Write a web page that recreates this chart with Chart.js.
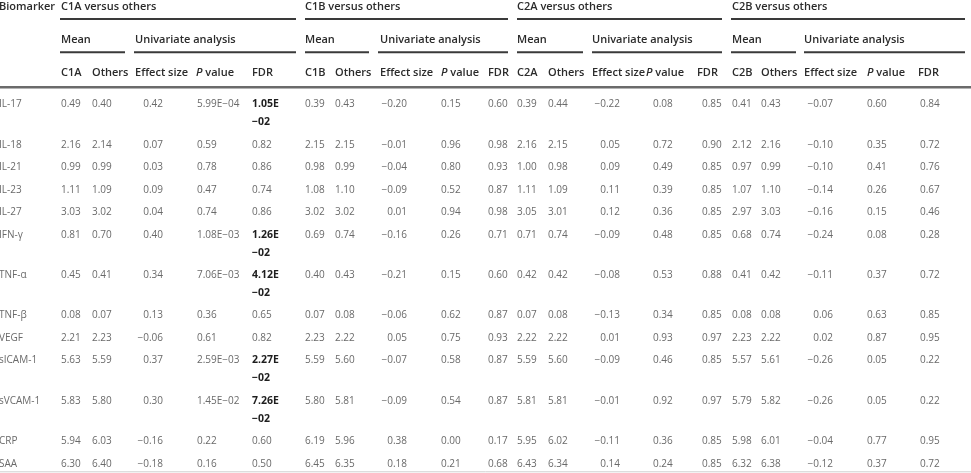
<!DOCTYPE html>
<html><head><meta charset="utf-8">
<script src="https://cdn.jsdelivr.net/npm/chart.js@4.4.1/dist/chart.umd.min.js"></script>
<style>html,body{margin:0;padding:0;background:#fff;overflow:hidden}#wrap{width:971px;height:473px;position:relative}</style>
</head><body><div id="wrap"><canvas id="c" width="971" height="473"></canvas></div>
<script>
// ---------- data ----------
const biomarkers = ['IL-17','IL-18','IL-21','IL-23','IL-27','IFN-γ','TNF-α','TNF-β','VEGF','sICAM-1','sVCAM-1','CRP','SAA'];
const comparisons = ['C1A','C1B','C2A','C2B'];
const subHeaders = ['Others','Effect size','P value','FDR'];

const c1aMean   = [0.49,2.16,0.99,1.11,3.03,0.81,0.45,0.08,2.21,5.63,5.83,5.94,6.30];
const c1aOthers = [0.40,2.14,0.99,1.09,3.02,0.70,0.41,0.07,2.23,5.59,5.80,6.03,6.40];
const c1aEffect = [0.42,0.07,0.03,0.09,0.04,0.40,0.34,0.13,-0.06,0.37,0.30,-0.16,-0.18];
const c1aP      = ['5.99E−04','0.59','0.78','0.47','0.74','1.08E−03','7.06E−03','0.36','0.61','2.59E−03','1.45E−02','0.22','0.16'];
const c1aFDR    = ['1.05E−02','0.82','0.86','0.74','0.86','1.26E−02','4.12E−02','0.65','0.82','2.27E−02','7.26E−02','0.60','0.50'];

const c1bMean   = [0.39,2.15,0.98,1.08,3.02,0.69,0.40,0.07,2.23,5.59,5.80,6.19,6.45];
const c1bOthers = [0.43,2.15,0.99,1.10,3.02,0.74,0.43,0.08,2.22,5.60,5.81,5.96,6.35];
const c1bEffect = [-0.20,-0.01,-0.04,-0.09,0.01,-0.16,-0.21,-0.06,0.05,-0.07,-0.09,0.38,0.18];
const c1bP      = ['0.15','0.96','0.80','0.52','0.94','0.26','0.15','0.62','0.75','0.58','0.54','0.00','0.21'];
const c1bFDR    = ['0.60','0.98','0.93','0.87','0.98','0.71','0.60','0.87','0.93','0.87','0.87','0.17','0.68'];

const c2aMean   = [0.39,2.16,1.00,1.11,3.05,0.71,0.42,0.07,2.22,5.59,5.81,5.95,6.43];
const c2aOthers = [0.44,2.15,0.98,1.09,3.01,0.74,0.42,0.08,2.22,5.60,5.81,6.02,6.34];
const c2aEffect = [-0.22,0.05,0.09,0.11,0.12,-0.09,-0.08,-0.13,0.01,-0.09,-0.01,-0.11,0.14];
const c2aP      = ['0.08','0.72','0.49','0.39','0.36','0.48','0.53','0.34','0.93','0.46','0.92','0.36','0.24'];
const c2aFDR    = ['0.85','0.90','0.85','0.85','0.85','0.85','0.88','0.85','0.97','0.85','0.97','0.85','0.85'];

const c2bMean   = [0.41,2.12,0.97,1.07,2.97,0.68,0.41,0.08,2.23,5.57,5.79,5.98,6.32];
const c2bOthers = [0.43,2.16,0.99,1.10,3.03,0.74,0.42,0.08,2.22,5.61,5.82,6.01,6.38];
const c2bEffect = [-0.07,-0.10,-0.10,-0.14,-0.16,-0.24,-0.11,0.06,0.02,-0.26,-0.26,-0.04,-0.12];
const c2bP      = ['0.60','0.35','0.41','0.26','0.15','0.08','0.37','0.63','0.87','0.05','0.05','0.77','0.37'];
const c2bFDR    = ['0.84','0.72','0.76','0.67','0.46','0.28','0.72','0.85','0.95','0.22','0.22','0.95','0.72'];

// ---------- layout (positions in scale units = px) ----------
const groupCols = [
  {title:61,  mean:61,  others:92,  effHead:135, effRight:163, pHead:196, pVal:197, fdrHead:252, fdrVal:252, line:[60,296],  meanLine:[60,125],  uniLine:[134,296]},
  {title:305, mean:305, others:335, effHead:380, effRight:407, pHead:441, pVal:441, fdrHead:488, fdrVal:488, line:[305,508], meanLine:[305,369], uniLine:[378,508]},
  {title:517, mean:517, others:548, effHead:592, effRight:620, pHead:646, pVal:653, fdrHead:697, fdrVal:702, line:[517,722], meanLine:[517,583], uniLine:[592,722]},
  {title:732, mean:732, others:761, effHead:804, effRight:833, pHead:867, pVal:867, fdrHead:918, fdrVal:920, line:[731,965], meanLine:[731,796], uniLine:[804,965]}
];
const groups = [
  {mean:c1aMean, others:c1aOthers, effect:c1aEffect, p:c1aP, fdr:c1aFDR},
  {mean:c1bMean, others:c1bOthers, effect:c1bEffect, p:c1bP, fdr:c1bFDR},
  {mean:c2aMean, others:c2aOthers, effect:c2aEffect, p:c2aP, fdr:c2aFDR},
  {mean:c2bMean, others:c2bOthers, effect:c2bEffect, p:c2bP, fdr:c2bFDR}
];

const HEAD_FONT = '600 11px "Open Sans", "Noto Sans", sans-serif';
const BOLD_FONT = '700 10.5px "Open Sans", "Noto Sans", sans-serif';
const VAL_FONT  = '400 10px "Liberation Sans Narrow", "Open Sans", sans-serif';
const HEAD_COL = '#2b2b2b', VAL_COL = '#6a6a6a';

const fmt = v => (v < 0 ? '−' : '') + Math.abs(v).toFixed(2);

const tablePlugin = {
  id: 'tablePlugin',
  afterDraw(chart) {
    const ctx = chart.ctx, X = chart.scales.x, Y = chart.scales.y;
    const px = v => X.getPixelForValue(v), py = v => Y.getPixelForValue(v);
    ctx.save();
    ctx.textBaseline = 'alphabetic';
    const text = (s, x, y, font, col, align) => {
      ctx.font = font; ctx.fillStyle = col; ctx.textAlign = align || 'left';
      ctx.fillText(s, px(x), py(y));
    };
    const hline = (x0, x1, y, w, col) => {
      ctx.strokeStyle = col; ctx.lineWidth = w;
      ctx.beginPath(); ctx.moveTo(px(x0), py(y)); ctx.lineTo(px(x1), py(y)); ctx.stroke();
    };
    // header
    text('Biomarker', -1, 9.5, HEAD_FONT, HEAD_COL);
    groupCols.forEach((g, i) => {
      text(comparisons[i] + ' versus others', g.title, 9.5, HEAD_FONT, HEAD_COL);
      hline(g.line[0], g.line[1], 19, 2, '#3a3a3a');
      text('Mean', g.mean, 42.5, HEAD_FONT, HEAD_COL);
      text('Univariate analysis', g.effHead, 42.5, HEAD_FONT, HEAD_COL);
      hline(g.meanLine[0], g.meanLine[1], 52.3, 2, '#3a3a3a');
      hline(g.uniLine[0], g.uniLine[1], 52.3, 2, '#3a3a3a');
      text(comparisons[i], g.mean, 76, HEAD_FONT, HEAD_COL);
      text(subHeaders[0], g.others, 76, HEAD_FONT, HEAD_COL);
      text(subHeaders[1], g.effHead, 76, HEAD_FONT, HEAD_COL);
      // italic P
      ctx.font = 'italic 600 11px "Open Sans", "Noto Sans", sans-serif';
      ctx.fillStyle = HEAD_COL; ctx.textAlign = 'left';
      ctx.fillText('P', px(g.pHead), py(76));
      const pw = ctx.measureText('P ').width;
      ctx.font = HEAD_FONT;
      ctx.fillText('value', px(g.pHead) + pw, py(76));
      text(subHeaders[3], g.fdrHead, 76, HEAD_FONT, HEAD_COL);
    });
    hline(0, 971, 87.3, 2.5, '#6b6b6b');
    // body
    const STEP = 22.45, EXTRA = 18, FIRST = 107.3;
    let extra = 0;
    biomarkers.forEach((b, r) => {
      const y = FIRST + STEP * r + extra;
      let lines = 1;
      text(b, -1, y, VAL_FONT, VAL_COL);
      groups.forEach((d, gi) => {
        const g = groupCols[gi];
        text(d.mean[r].toFixed(2), g.mean, y, VAL_FONT, VAL_COL);
        text(d.others[r].toFixed(2), g.others, y, VAL_FONT, VAL_COL);
        text(fmt(d.effect[r]), g.effRight, y, VAL_FONT, VAL_COL, 'right');
        text(d.p[r], g.pVal, y, VAL_FONT, VAL_COL);
        const f = d.fdr[r];
        if (f.includes('E')) {
          const parts = f.split('E');
          text(parts[0] + 'E', g.fdrVal, y, BOLD_FONT, '#1e1e1e');
          text(parts[1], g.fdrVal, y + EXTRA, BOLD_FONT, '#1e1e1e');
          lines = 2;
        } else {
          text(f, g.fdrVal, y, VAL_FONT, VAL_COL);
        }
      });
      if (lines === 2) extra += EXTRA;
    });
    hline(0, 971, 471.8, 1, '#d0d0d0');
    ctx.restore();
  }
};

new Chart(document.getElementById('c'), {
  type: 'scatter',
  data: { datasets: [] },
  options: {
    responsive: false, animation: false, events: [],
    layout: { padding: 0 },
    plugins: { legend: { display: false }, tooltip: { enabled: false } },
    scales: {
      x: { type: 'linear', display: false, min: 0, max: 971 },
      y: { type: 'linear', display: false, min: 0, max: 473, reverse: true }
    }
  },
  plugins: [tablePlugin]
});
</script></body></html>
